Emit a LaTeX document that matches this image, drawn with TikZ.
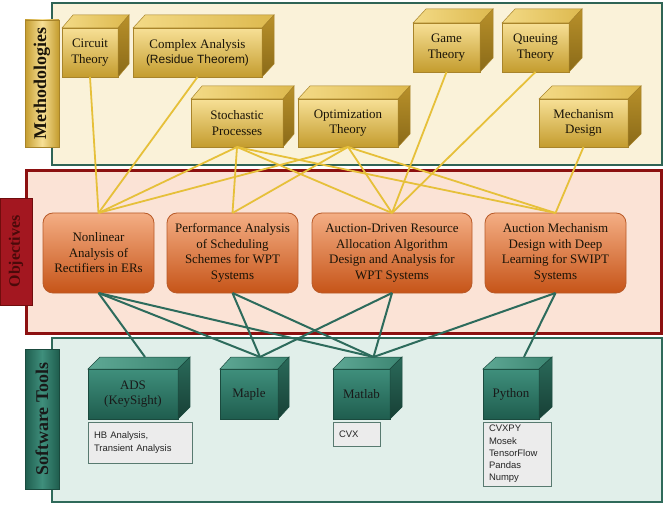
\documentclass[tikz,border=0pt]{standalone}
\usepackage{fontspec}
\setmainfont{Liberation Serif}
\newfontfamily\sansf{Liberation Sans}
\definecolor{creamfill}{HTML}{FAF2D9}
\definecolor{tealborder}{HTML}{2F6455}
\definecolor{pinkfill}{HTML}{FBE3D6}
\definecolor{redborder}{HTML}{8C1010}
\definecolor{mintfill}{HTML}{E1EFEA}
\definecolor{mintborder}{HTML}{2F6A5A}
\definecolor{goldlight}{HTML}{F7E096}
\definecolor{golddark}{HTML}{C49C2E}
\definecolor{goldtopA}{HTML}{F3DA86}
\definecolor{goldtopB}{HTML}{DDB94E}
\definecolor{goldsideA}{HTML}{B8902A}
\definecolor{goldsideB}{HTML}{8A6A18}
\definecolor{goldedge}{HTML}{A8842A}
\definecolor{orangelight}{HTML}{F4AE84}
\definecolor{orangedark}{HTML}{C65418}
\definecolor{orangeedge}{HTML}{B85A28}
\definecolor{teallight}{HTML}{3F8F7C}
\definecolor{tealdark}{HTML}{1F5D4E}
\definecolor{tealtopA}{HTML}{5EA894}
\definecolor{tealtopB}{HTML}{3C8572}
\definecolor{tealsideA}{HTML}{2A6A5A}
\definecolor{tealsideB}{HTML}{173F35}
\definecolor{tealedge}{HTML}{1A4A3E}
\definecolor{yline}{HTML}{E6C03A}
\definecolor{gline}{HTML}{2D6B5C}
\definecolor{notefill}{HTML}{ECECEC}
\definecolor{noteedge}{HTML}{587A70}
\definecolor{objlabel}{HTML}{A31720}
\definecolor{objtext}{HTML}{4A0A0A}
\definecolor{darktxt}{HTML}{1A1408}
\newcommand{\mainsz}{\fontsize{13}{15.5}\selectfont}
\newcommand{\notesz}{\fontsize{9.5}{12.3}\selectfont}
\newcommand{\mkbox}[7]{%
  \node[#1, minimum width={(#5-#3)*1bp}, minimum height={(#6-#4)*1bp}] (#2) at ({(#3+#5)/2},{(#4+#6)/2}) {#7};}
\newcommand{\cubefaces}[5]{%
  \path[#4] (#1.north west) -- ++(#2,-#3) -- ([shift={(#2,-#3)}]#1.north east) -- (#1.north east) -- cycle;
  \path[#5] (#1.north east) -- ++(#2,-#3) -- ([shift={(#2,-#3)}]#1.south east) -- (#1.south east) -- cycle;}
\tikzset{
  panel/.style={line width=2.5bp},
  methbox/.style={draw=goldedge, line width=0.5bp, top color=goldlight, bottom color=golddark, inner sep=0, outer sep=0, align=center, font=\mainsz, text=darktxt},
  goldtop/.style={draw=goldedge, line width=0.5bp, left color=goldtopA, right color=goldtopB},
  goldside/.style={draw=goldedge, line width=0.5bp, top color=goldsideA, bottom color=goldsideB},
  objbox/.style={draw=orangeedge, line width=0.8bp, rounded corners=10bp, top color=orangelight, bottom color=orangedark, inner sep=0, outer sep=0, align=center, font=\mainsz, text=darktxt},
  softbox/.style={draw=tealedge, line width=0.5bp, top color=teallight, bottom color=tealdark, inner sep=0, outer sep=0, align=center, font=\mainsz, text=black!90},
  tealtop/.style={draw=tealedge, line width=0.5bp, left color=tealtopA, right color=tealtopB},
  tealside/.style={draw=tealedge, line width=0.5bp, top color=tealsideA, bottom color=tealsideB},
  notebox/.style={draw=noteedge, line width=1bp, fill=notefill, inner xsep=6bp, inner ysep=0, outer sep=0, align=left, font=\sansf\notesz, text=black!85},
  ycon/.style={draw=yline, line width=1.8bp},
  gcon/.style={draw=gline, line width=2bp},
  labeltext/.style={rotate=90, font=\fontsize{18}{20}\selectfont\bfseries}
}
\begin{document}
\begin{tikzpicture}[x=1bp,y=-1bp]
\useasboundingbox (0,0) rectangle (666,507);
% panels
\draw[panel, draw=tealborder, fill=creamfill] (52,3) rectangle (662,165);
\draw[line width=3bp, draw=redborder, fill=pinkfill] (26,171) rectangle (661,333);
\draw[panel, draw=mintborder, fill=mintfill] (52,338) rectangle (662,502);
% section labels
\node[draw=goldedge, line width=0.6bp, left color=golddark, right color=golddark, middle color=goldlight, minimum width=34bp, minimum height=127bp, inner sep=0] (lmeth) at (42,83.5) {};
\node[labeltext, text=darktxt] at (lmeth.center) {Methodologies};
\node[draw=redborder!80!black, line width=0.6bp, fill=objlabel, minimum width=32bp, minimum height=107bp, inner sep=0] (lobj) at (16,251.5) {};
\node[labeltext, font=\fontsize{16}{18}\selectfont\bfseries, text=objtext] at (lobj.center) {Objectives};
\node[draw=tealedge, line width=0.6bp, left color=tealdark, right color=tealdark, middle color=teallight, minimum width=34bp, minimum height=140bp, inner sep=0] (lsoft) at (42,419) {};
\node[labeltext, text=black!90] at (lsoft.center) {Software Tools};
% methodology boxes
\mkbox{methbox}{circ}{62}{28}{118}{77}{Circuit\\Theory}
\cubefaces{circ}{11}{13}{goldtop}{goldside}
\mkbox{methbox}{cplx}{133}{28}{262}{77}{Complex Analysis\\{\sansf\fontsize{12}{15.5}\selectfont (Residue Theorem)}}
\cubefaces{cplx}{12}{13}{goldtop}{goldside}
\mkbox{methbox}{stoch}{191}{99}{283}{147}{Stochastic\\Processes}
\cubefaces{stoch}{11}{13}{goldtop}{goldside}
\mkbox{methbox}{opt}{298}{99}{398}{147}{Optimization\\Theory}
\cubefaces{opt}{12}{13}{goldtop}{goldside}
\mkbox{methbox}{game}{413}{23}{480}{72}{Game\\Theory}
\cubefaces{game}{13}{14}{goldtop}{goldside}
\mkbox{methbox}{queue}{502}{23}{569}{72}{Queuing\\Theory}
\cubefaces{queue}{13}{14}{goldtop}{goldside}
\mkbox{methbox}{mech}{539}{99}{628}{147}{Mechanism\\Design}
\cubefaces{mech}{13}{13}{goldtop}{goldside}
% objective boxes
\mkbox{objbox}{o1}{43}{213}{154}{293}{Nonlinear\\Analysis of\\Rectifiers in ERs}
\mkbox{objbox}{o2}{167}{213}{298}{293}{Performance Analysis\\of Scheduling\\Schemes for WPT\\Systems}
\mkbox{objbox}{o3}{312}{213}{472}{293}{Auction-Driven Resource\\Allocation Algorithm\\Design and Analysis for\\WPT Systems}
\mkbox{objbox}{o4}{485}{213}{626}{293}{Auction Mechanism\\Design with Deep\\Learning for SWIPT\\Systems}
% software boxes
\mkbox{softbox}{ads}{88}{369}{178}{419}{ADS\\(KeySight)}
\cubefaces{ads}{12}{12}{tealtop}{tealside}
\mkbox{softbox}{maple}{220}{369}{278}{419}{Maple}
\cubefaces{maple}{11}{12}{tealtop}{tealside}
\mkbox{softbox}{matlab}{333}{369}{390}{419}{Matlab}
\cubefaces{matlab}{12}{12}{tealtop}{tealside}
\mkbox{softbox}{python}{483}{369}{539}{419}{Python}
\cubefaces{python}{13}{12}{tealtop}{tealside}
\coordinate (ads-t) at ([shift={(12,-12)}]ads.north);
\coordinate (maple-t) at ([shift={(11,-12)}]maple.north);
\coordinate (matlab-t) at ([shift={(12,-12)}]matlab.north);
\coordinate (python-t) at ([shift={(13,-12)}]python.north);
% notes
\node[notebox, text width=92bp, minimum height=41bp] (adsn) at (140,442.5) {HB Analysis,\\Transient Analysis};
\node[notebox, text width=35bp, minimum height=24bp] (matn) at (356.5,434) {CVX};
\node[notebox, text width=56bp, minimum height=64bp] (pyn) at (517,454) {CVXPY\\Mosek\\TensorFlow\\Pandas\\Numpy};
% methodology -> objective connectors
\draw[ycon] (circ.south) -- (o1.north);
\draw[ycon] (cplx.south) -- (o1.north);
\draw[ycon] (stoch.south) -- (o1.north);
\draw[ycon] (stoch.south) -- (o2.north);
\draw[ycon] (stoch.south) -- (o3.north);
\draw[ycon] (stoch.south) -- (o4.north);
\draw[ycon] (opt.south) -- (o1.north);
\draw[ycon] (opt.south) -- (o2.north);
\draw[ycon] (opt.south) -- (o3.north);
\draw[ycon] (opt.south) -- (o4.north);
\draw[ycon] (game.south) -- (o3.north);
\draw[ycon] (queue.south) -- (o3.north);
\draw[ycon] (mech.south) -- (o4.north);
% objective -> software connectors
\draw[gcon] (o1.south) -- (ads-t);
\draw[gcon] (o1.south) -- (maple-t);
\draw[gcon] (o1.south) -- (matlab-t);
\draw[gcon] (o2.south) -- (maple-t);
\draw[gcon] (o2.south) -- (matlab-t);
\draw[gcon] (o3.south) -- (maple-t);
\draw[gcon] (o3.south) -- (matlab-t);
\draw[gcon] (o4.south) -- (matlab-t);
\draw[gcon] (o4.south) -- (python-t);
\end{tikzpicture}
\end{document}
